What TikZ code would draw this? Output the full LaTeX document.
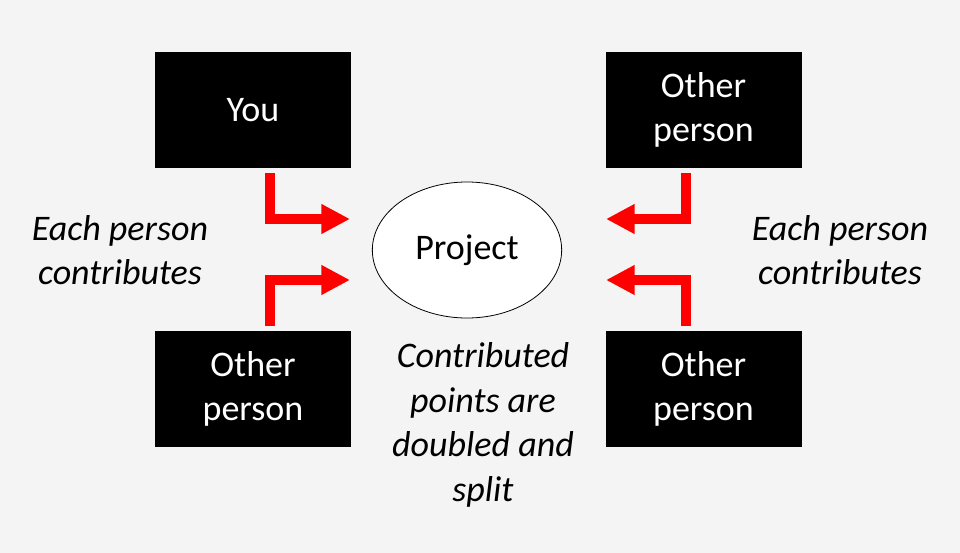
\documentclass[tikz,border=0pt]{standalone}
\usepackage{fontspec}
\setmainfont{Carlito}
\usetikzlibrary{arrows.meta,shapes.geometric}
\definecolor{canvas}{HTML}{F4F4F4}
\definecolor{arrowred}{HTML}{FF0000}
\begin{document}
\begin{tikzpicture}[x=0.75pt,y=-0.75pt,
  person/.style={fill=black, text=white, minimum width=147pt, minimum height=87pt,
    align=center, inner sep=0pt, font=\fontsize{27}{33}\selectfont},
  goal/.style={ellipse, draw=black, line width=0.6pt, fill=white,
    minimum width=142pt, minimum height=102pt, inner sep=0pt,
    font=\fontsize{27}{33}\selectfont},
  note/.style={align=center, inner sep=0pt, font=\fontsize{27}{33.5}\selectfont\itshape},
  feed/.style={draw=arrowred, line width=7pt, line join=miter,
    -{Triangle[length=21.5pt, width=21pt]}}]
  % canvas
  \fill[canvas] (0,0) rectangle (960,553);
  \useasboundingbox (0,0) rectangle (960,553);

  % participants
  \node[person] (you) at (253,110) {You};
  \node[person] (tr) at (703.5,110) {Other\\person};
  \node[person] (bl) at (253,389) {Other\\person};
  \node[person] (br) at (703.5,389) {Other\\person};

  % shared project
  \node[goal] (proj) at (467,250) {Project};

  % captions
  \node[note] (capl) at (120,250) {Each person\\contributes};
  \node[note] (capr) at (840,250) {Each person\\contributes};
  \node[note] (capm) at (483,425) {Contributed\\points are\\doubled and\\split};

  % arrow anchors
  \coordinate (a1s) at (270,173);  \coordinate (a1e) at (350,219);
  \coordinate (a2s) at (270,326);  \coordinate (a2e) at (350,280);
  \coordinate (a3s) at (686,173);  \coordinate (a3e) at (606,219);
  \coordinate (a4s) at (686,326);  \coordinate (a4e) at (606,280);

  % contributions flowing into the project
  \draw[feed] (a1s) |- (a1e);
  \draw[feed] (a2s) |- (a2e);
  \draw[feed] (a3s) |- (a3e);
  \draw[feed] (a4s) |- (a4e);
\end{tikzpicture}
\end{document}
